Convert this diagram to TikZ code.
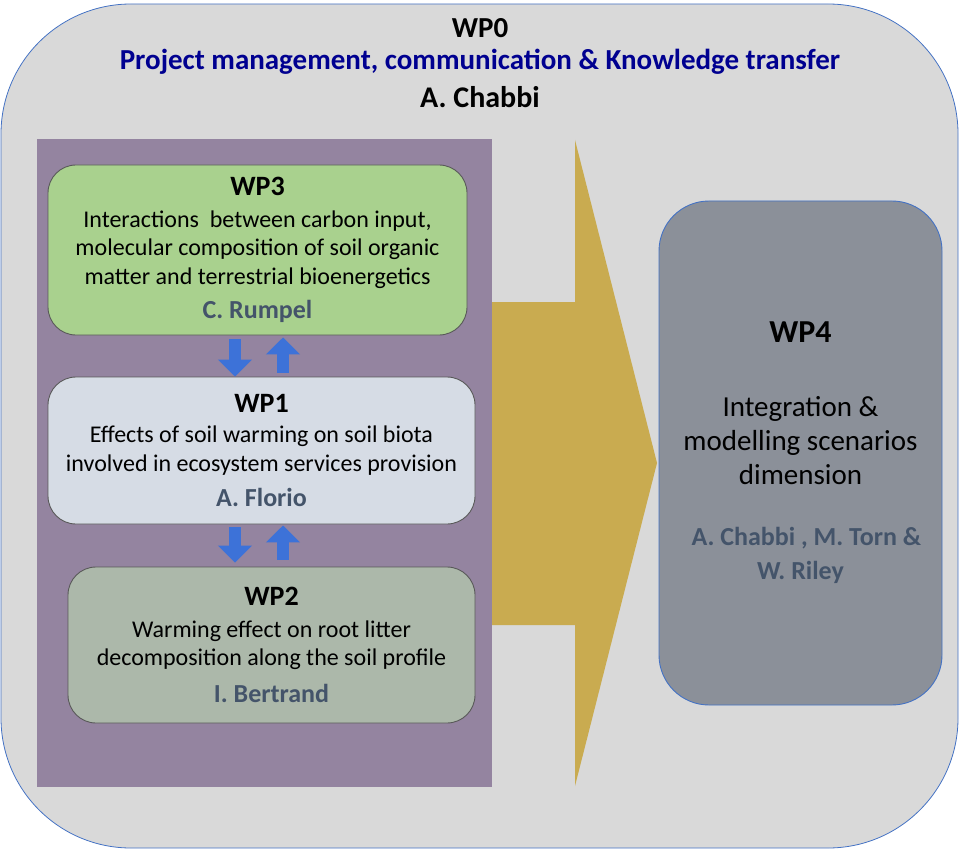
\documentclass[tikz,border=0pt]{standalone}
\usepackage{fontspec}
\setmainfont{Carlito}
\usetikzlibrary{arrows.meta}
\definecolor{wpback}{HTML}{D9D9D9}
\definecolor{wpedge}{HTML}{4472C4}
\definecolor{wpviolet}{HTML}{9484A0}
\definecolor{wpgold}{HTML}{C9AB50}
\definecolor{wpgreen}{HTML}{A9D18E}
\definecolor{wplight}{HTML}{D6DCE5}
\definecolor{wpsage}{HTML}{ACB8AA}
\definecolor{wpslate}{HTML}{8B9099}
\definecolor{wpauthor}{HTML}{44546A}
\definecolor{wpnavy}{HTML}{000090}
\definecolor{wpblue}{HTML}{3D72D8}
\newcommand{\rBox}{28}
\newcommand{\bodyFont}{\fontsize{24}{28.5}\selectfont}
\newcommand{\wpTitle}[1]{{\fontsize{28}{32}\selectfont\bfseries #1}}
\newcommand{\wpLead}[1]{{\fontsize{26}{30}\selectfont\bfseries\color{wpauthor} #1}}

\tikzset{
  wpbox/.style={draw=black!65, line width=0.9pt, rounded corners=\rBox pt,
    align=center, inner sep=0pt, font=\bodyFont},
  flowarrow/.style={draw=wpblue, line width=12pt,
    -{Triangle[length=17pt, width=33pt]}},
  headline/.style={font=\fontsize{29}{34}\selectfont\bfseries}
}

\begin{document}
\begin{tikzpicture}[x=1pt, y=-1pt]
	\useasboundingbox (0,0) rectangle (960,850);
	% background: WP0
	\draw[fill=wpback, draw=wpedge, line width=0.8pt, rounded corners=130pt] (1,4) rectangle (958,848);
	\node[headline] (wp0) at (480,28) {WP0};
	\node[headline, text=wpnavy] (wp0title) at (480,62) {Project management, communication \& Knowledge transfer};
	\node[headline, font=\fontsize{30}{34}\selectfont\bfseries] (wp0lead) at (480,97) {A. Chabbi};
	% big arrow towards WP4
	\fill[wpgold] (480,302) -- (575,302) -- (575,140) -- (657,463) -- (575,786) -- (575,625) -- (480,625) -- cycle;
	\fill[wpviolet] (37,139) rectangle (492,787);
	% work packages
	\node[wpbox, fill=wpgreen, minimum width=419pt, minimum height=170pt] (wp3) at (257.5,250) {%
		\wpTitle{WP3}\\[3pt]
		Interactions\ \ between carbon input,\\
		molecular composition of soil organic\\
		matter and terrestrial bioenergetics\\[6pt]
		\wpLead{C. Rumpel}};
	\node[wpbox, fill=wplight, minimum width=427pt, minimum height=147pt] (wp1) at (261.5,450.5) {%
		\wpTitle{WP1}\\[2pt]
		Effects of soil warming on soil biota\\
		involved in ecosystem services provision\\[7pt]
		\wpLead{A. Florio}};
	\node[wpbox, fill=wpsage, minimum width=407pt, minimum height=156pt] (wp2) at (271.5,645) {%
		\wpTitle{WP2}\\[3pt]
		Warming effect on root litter\\
		decomposition along the soil profile\\[8pt]
		\wpLead{I. Bertrand}};
	\node[wpbox, draw=wpedge, fill=wpslate, rounded corners=50pt, minimum width=283pt, minimum height=504pt,
		font=\fontsize{29}{34}\selectfont] (wp4) at (800.5,453) {%
		{\fontsize{32}{34}\selectfont\bfseries WP4}\\[40pt]
		Integration \&\\
		modelling scenarios\\
		dimension\\[27pt]
		{\fontsize{26}{31}\selectfont\bfseries\color{wpauthor}\ \ A. Chabbi , M. Torn \&}\\
		{\fontsize{26}{31}\selectfont\bfseries\color{wpauthor} W. Riley}};
	% exchanges between work packages
	\coordinate (dn) at (235,0);
	\coordinate (up) at (283,0);
	\draw[flowarrow] ([yshift=-4pt]wp3.south -| dn) -- (wp1.north -| dn);
	\draw[flowarrow] ([yshift=4pt]wp1.north -| up) -- ([yshift=-2pt]wp3.south -| up);
	\draw[flowarrow] ([yshift=-3pt]wp1.south -| dn) -- ([yshift=4pt]wp2.north -| dn);
	\draw[flowarrow] ([yshift=7pt]wp2.north -| up) -- ([yshift=-1pt]wp1.south -| up);
\end{tikzpicture}
\end{document}
